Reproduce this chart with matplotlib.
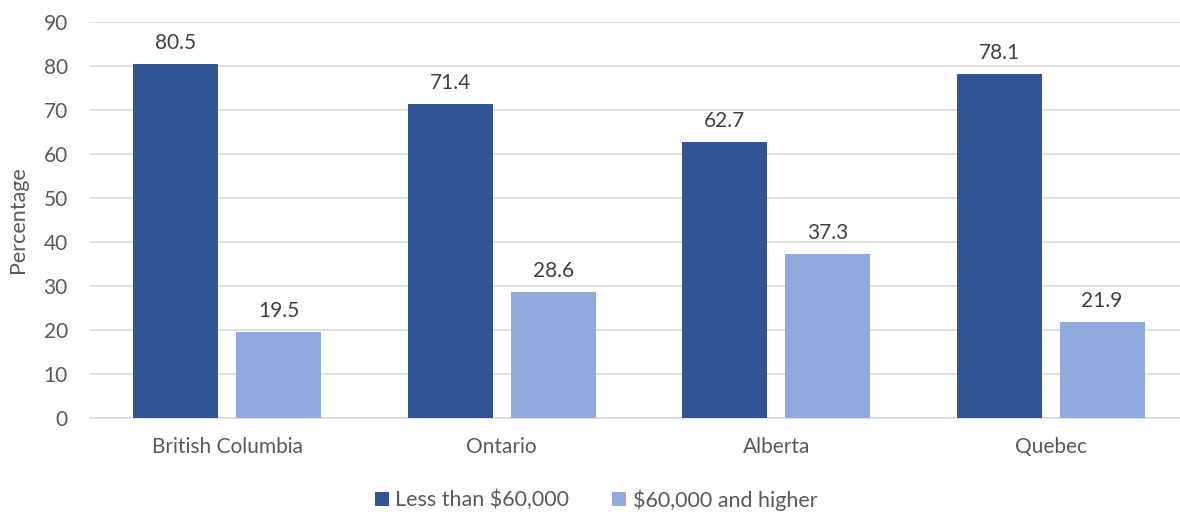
import matplotlib
matplotlib.use("Agg")
import matplotlib.pyplot as plt
import numpy as np

provinces = ["British Columbia", "Ontario", "Alberta", "Quebec"]
less_60k = [80.5, 71.4, 62.7, 78.1]
more_60k = [19.5, 28.6, 37.3, 21.9]
series_names = ["Less than $60,000", "$60,000 and higher"]

plt.rcParams["font.family"] = ["Lato", "DejaVu Sans"]
txt = "#595959"

fig = plt.figure(figsize=(11.8, 5.12), dpi=100)
# plot area runs past the right edge, like the source
ax = fig.add_axes([0.0763, 0.1836, 0.9305, 0.7734])

x = np.arange(len(provinces))
w = 0.31
b1 = ax.bar(x - 0.187, less_60k, w, color="#2F5597", label=series_names[0], zorder=3)
b2 = ax.bar(x + 0.187, more_60k, w, color="#8FAADC", label=series_names[1], zorder=3)
for bars in (b1, b2):
    ax.bar_label(bars, fmt="%.1f", padding=8, fontsize=15, color="#404040")

ax.set_xlim(-0.5, len(provinces) - 0.5)
ax.set_ylim(0, 90)
ax.set_yticks(range(0, 91, 10))
ax.set_xticks(x)
ax.set_xticklabels(provinces)
ax.tick_params(axis="both", length=0, labelsize=15, labelcolor=txt)
ax.tick_params(axis="x", pad=14)
ax.tick_params(axis="y", pad=16)
ax.grid(axis="y", color="#D9D9D9", linewidth=1.2, zorder=0)
for s in ["top", "right", "left"]:
    ax.spines[s].set_visible(False)
ax.spines["bottom"].set_color("#D9D9D9")
ax.spines["bottom"].set_linewidth(1.2)
ax.set_ylabel("Percentage", fontsize=15.5, color=txt, labelpad=11)

fig.legend(loc="lower center", bbox_to_anchor=(0.505, -0.035), ncol=2, frameon=False,
           fontsize=15.5, labelcolor=txt, handlelength=0.65, handleheight=0.65,
           handletextpad=0.3, columnspacing=2.0)

fig.savefig("out.png", dpi=100)
